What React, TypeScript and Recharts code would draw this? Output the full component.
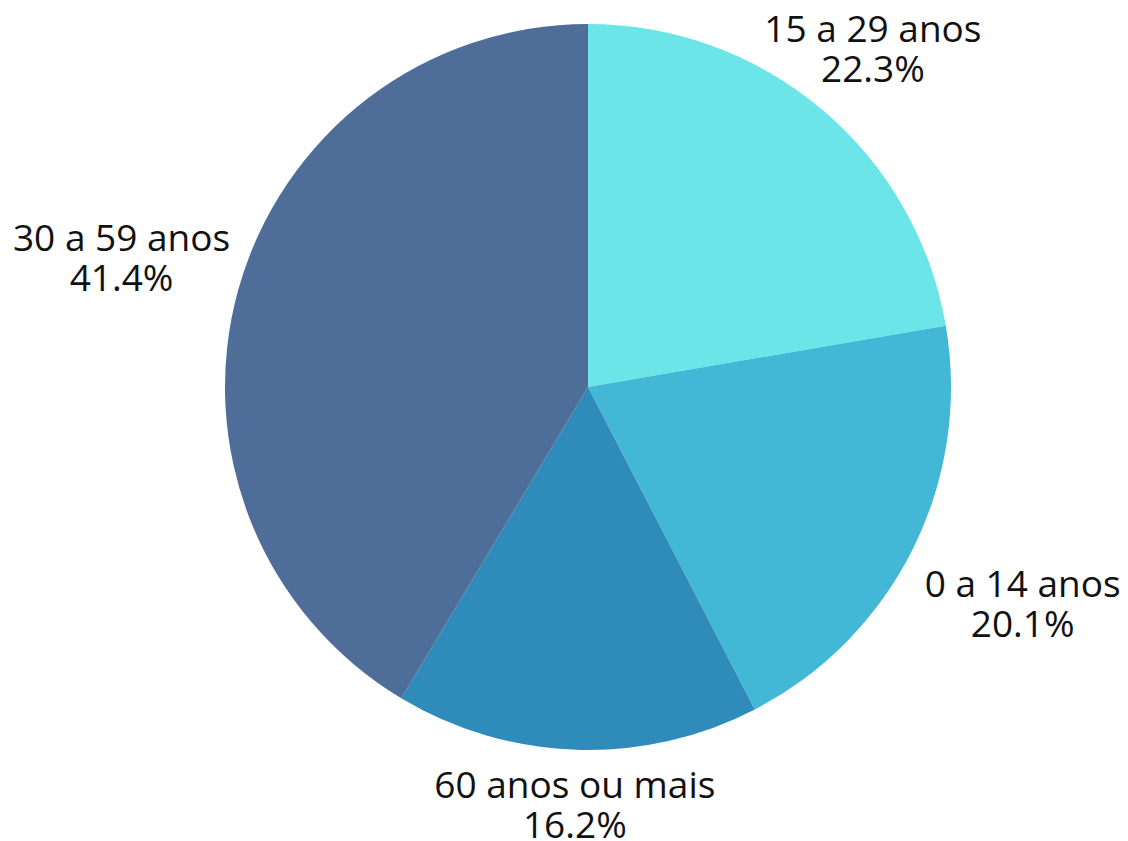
import React from "react";
import { PieChart, Pie, Cell } from "recharts";

const categories = ["15 a 29 anos", "0 a 14 anos", "60 anos ou mais", "30 a 59 anos"];
const shares = [22.3, 20.1, 16.2, 41.4];
const colors = ["#6BE5E8", "#42B7D6", "#2E8BBA", "#4F6D99"];

const data = categories.map((name, i) => ({ name, value: shares[i] }));

const FONT_SIZE = 37;
const FONT_FAMILY = '"Open Sans", "Noto Sans", sans-serif';
const LINE_GAP = 40;
const CAP = 26.7;
const LABEL_PAD = 21;

let ctx: CanvasRenderingContext2D | null = null;
function measure(text: string): number {
  if (!ctx) {
    const c = document.createElement("canvas");
    ctx = c.getContext("2d");
  }
  if (!ctx) return text.length * FONT_SIZE * 0.55;
  ctx.font = `${FONT_SIZE}px "Open Sans"`;
  const m = ctx.measureText(text);
  const w = (m.actualBoundingBoxLeft ?? 0) + (m.actualBoundingBoxRight ?? 0);
  return w > 0 ? w : m.width;
}

function rectDist(x0: number, y0: number, x1: number, y1: number) {
  const dx = Math.max(x0, 0, -x1);
  const dy = Math.max(y0, 0, -y1);
  return Math.sqrt(dx * dx + dy * dy);
}

const renderLabel = (props: any) => {
  const { cx, cy, midAngle, outerRadius, index } = props;
  const line1 = categories[index];
  const line2 = `${shares[index].toFixed(1)}%`;
  const w1 = measure(line1);
  const w2 = measure(line2);
  const rad = (midAngle * Math.PI) / 180;
  const ux = Math.cos(rad);
  const uy = -Math.sin(rad);
  const target = outerRadius + LABEL_PAD;
  let R = outerRadius;
  for (; R < outerRadius + 400; R += 0.5) {
    const px = ux * R;
    const py = uy * R;
    const top1 = py - (LINE_GAP + CAP) / 2;
    const bot1 = py - (LINE_GAP - CAP) / 2;
    const top2 = py + (LINE_GAP - CAP) / 2;
    const bot2 = py + (LINE_GAP + CAP) / 2;
    const d1 = rectDist(px - w1 / 2, top1, px + w1 / 2, bot1);
    const d2 = rectDist(px - w2 / 2, top2, px + w2 / 2, bot2);
    if (Math.min(d1, d2) >= target) break;
  }
  const x = cx + ux * R;
  const y = cy + uy * R;
  return (
    <text
      x={x}
      y={y}
      textAnchor="middle"
      fontSize={FONT_SIZE}
      fontFamily={FONT_FAMILY}
      fill="#111111"
    >
      <tspan x={x} y={y - (LINE_GAP - CAP) / 2}>{line1}</tspan>
      <tspan x={x} y={y + (LINE_GAP + CAP) / 2}>{line2}</tspan>
    </text>
  );
};

export default function App() {
  return (
    <div style={{ position: "absolute", left: 0, top: 0, width: 1128, height: 841, background: "#ffffff" }}>
      <PieChart width={1128} height={841} margin={{ top: 0, right: 0, bottom: 0, left: 0 }}>
        <Pie
          data={data}
          dataKey="value"
          nameKey="name"
          cx={588}
          cy={387}
          outerRadius={363}
          startAngle={90}
          endAngle={-270}
          stroke="none"
          label={renderLabel}
          labelLine={false}
          isAnimationActive={false}
        >
          {data.map((d, i) => (
            <Cell key={d.name} fill={colors[i]} />
          ))}
        </Pie>
      </PieChart>
    </div>
  );
}
